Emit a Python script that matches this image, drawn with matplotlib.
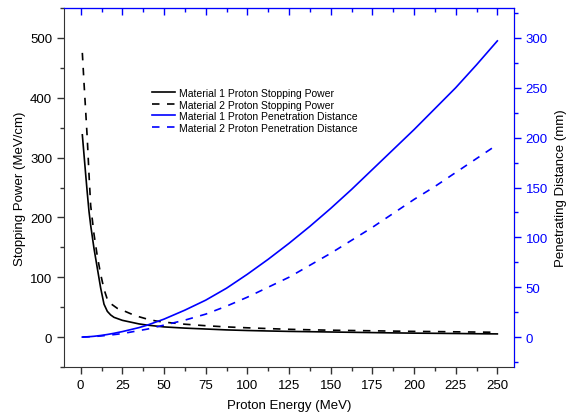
import matplotlib
matplotlib.use('Agg')
import matplotlib.pyplot as plt
from matplotlib.ticker import MultipleLocator, NullFormatter

plt.rcParams['font.family'] = ['Liberation Sans', 'DejaVu Sans']
plt.rcParams['font.size'] = 9.5

# proton energy (MeV)
energy = [1, 2, 3, 4, 5, 6, 8, 10, 12, 14, 16, 18, 20, 22, 25, 30, 35, 40, 45,
          50, 62.5, 75, 87.5, 100, 112.5, 125, 137.5, 150, 162.5, 175, 187.5,
          200, 212.5, 225, 237.5, 250]

# stopping power (MeV/cm)
stop_m1 = [338, 305, 272, 240, 210, 187, 148, 115, 82, 55, 43, 37, 33, 31, 28,
           25, 22, 20, 18.5, 17, 15, 13.5, 12, 11, 10.2, 9.5, 9, 8.5, 8, 7.5,
           7, 6.6, 6.3, 6, 5.6, 5.3]
stop_m2 = [475, 425, 378, 330, 272, 220, 172, 135, 105, 80, 63, 56, 52, 48, 45,
           39, 34, 30, 27, 25, 21.5, 19, 17, 15.5, 14.2, 13, 12.2, 11.5, 11,
           10.5, 10, 9.5, 9.2, 8.8, 8.4, 8]

# penetration distance (mm)
range_m1 = [0, 0.1, 0.2, 0.3, 0.4, 0.5, 0.8, 1.2, 1.6, 2.1, 2.6, 3.2, 3.8, 4.5,
            5.5, 7.5, 9.5, 12, 15, 18, 27, 37, 49, 63, 78, 94, 111, 129, 148,
            168, 188, 208, 229, 250, 273, 297]
range_m2 = [0, 0.1, 0.15, 0.2, 0.3, 0.35, 0.5, 0.8, 1.1, 1.4, 1.7, 2.1, 2.5,
            2.9, 3.5, 5, 6.5, 8, 10, 12, 17, 23, 31, 40, 50, 60, 72, 84, 97,
            110, 124, 138, 151, 165, 179, 193]

blue = '#0000ff'
dark = '#333333'

fig = plt.figure(figsize=(5.66, 4.14), dpi=100)
ax = fig.add_axes([64/566, 1-368/414, 450/566, 359/414])
ax2 = ax.twinx()

l1, = ax.plot(energy, stop_m1, color='black', lw=1.2,
              label='Material 1 Proton Stopping Power')
l2, = ax.plot(energy, stop_m2, color='black', lw=1.2, dashes=(4.5, 4.5),
              label='Material 2 Proton Stopping Power')
l3, = ax2.plot(energy, range_m1, color=blue, lw=1.2,
               label='Material 1 Proton Penetration Distance')
l4, = ax2.plot(energy, range_m2, color=blue, lw=1.2, dashes=(4.5, 4.5),
               label='Material 2 Proton Penetration Distance')

ax.set_xlim(-10, 260)
ax.set_ylim(-50, 550)
ax2.set_ylim(-30, 330)

ax.xaxis.set_major_locator(MultipleLocator(25))
ax.xaxis.set_minor_locator(MultipleLocator(12.5))
ax.yaxis.set_major_locator(MultipleLocator(100))
ax.yaxis.set_minor_locator(MultipleLocator(50))
ax2.yaxis.set_major_locator(MultipleLocator(50))
ax2.yaxis.set_minor_locator(MultipleLocator(25))

ax.tick_params(which='both', direction='out', color=dark, width=1, top=False)
ax.tick_params(which='major', length=5)
ax.tick_params(which='minor', length=3)
ax2.tick_params(which='both', direction='out', color=blue, labelcolor=blue, width=1)
ax2.tick_params(which='major', length=5)
ax2.tick_params(which='minor', length=3)

# top axis: blue, ticks pointing in
top = ax.secondary_xaxis('top')
top.xaxis.set_major_locator(MultipleLocator(25))
top.xaxis.set_minor_locator(MultipleLocator(12.5))
top.xaxis.set_major_formatter(NullFormatter())
top.tick_params(which='both', direction='in', color=blue, width=1)
top.tick_params(which='major', length=5)
top.tick_params(which='minor', length=3)
top.spines['top'].set_color(blue)

for s in ['left', 'bottom']:
    ax.spines[s].set_color(dark)
ax.spines['top'].set_color(blue)
ax2.spines['top'].set_color(blue)
ax2.spines['right'].set_color(blue)
ax2.spines['left'].set_visible(False)
ax2.spines['bottom'].set_visible(False)

ax.set_xlabel('Proton Energy (MeV)')
ax.set_ylabel('Stopping Power (MeV/cm)')
ax2.set_ylabel('Penetrating Distance (mm)', rotation=90, va='bottom')
ax.xaxis.set_label_coords(0.5, -0.09)
ax.yaxis.set_label_coords(-0.085, 0.5)
ax2.yaxis.set_label_coords(1.117, 0.5)

fig.legend(handles=[l1, l2, l3, l4], loc='upper left',
           bbox_to_anchor=(152/566, 1-89/414), frameon=False, fontsize=7.5,
           handlelength=2.2, handletextpad=0.4, labelspacing=0.15,
           borderpad=0, borderaxespad=0)

fig.savefig('out.png', dpi=100)
